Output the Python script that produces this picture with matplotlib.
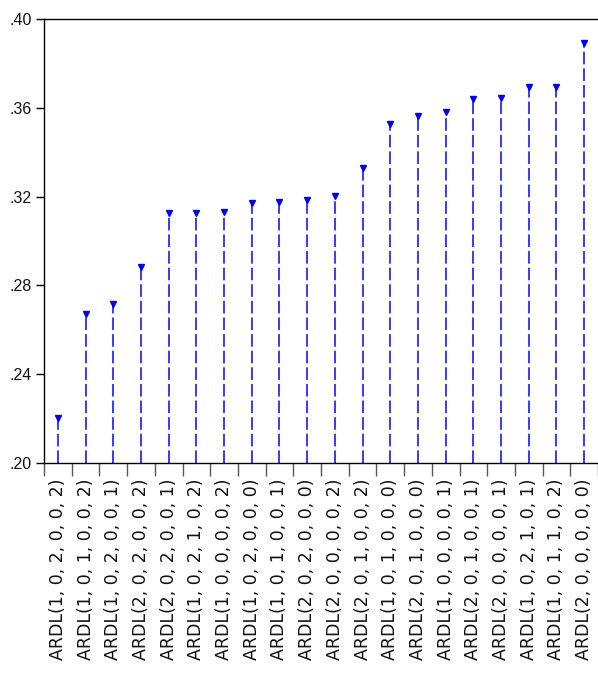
import numpy as np
import matplotlib
matplotlib.use("Agg")
import matplotlib.pyplot as plt
from matplotlib.ticker import FuncFormatter

plt.rcParams['font.family'] = ['Liberation Sans', 'DejaVu Sans']

models = [
    "ARDL(1, 0, 2, 0, 0, 2)", "ARDL(1, 0, 1, 0, 0, 2)", "ARDL(1, 0, 2, 0, 0, 1)",
    "ARDL(2, 0, 2, 0, 0, 2)", "ARDL(2, 0, 2, 0, 0, 1)", "ARDL(1, 0, 2, 1, 0, 2)",
    "ARDL(1, 0, 0, 0, 0, 2)", "ARDL(1, 0, 2, 0, 0, 0)", "ARDL(1, 0, 1, 0, 0, 1)",
    "ARDL(2, 0, 2, 0, 0, 0)", "ARDL(2, 0, 0, 0, 0, 2)", "ARDL(2, 0, 1, 0, 0, 2)",
    "ARDL(1, 0, 1, 0, 0, 0)", "ARDL(2, 0, 1, 0, 0, 0)", "ARDL(1, 0, 0, 0, 0, 1)",
    "ARDL(2, 0, 1, 0, 0, 1)", "ARDL(2, 0, 0, 0, 0, 1)", "ARDL(1, 0, 2, 1, 0, 1)",
    "ARDL(1, 0, 1, 1, 0, 2)", "ARDL(2, 0, 0, 0, 0, 0)",
]
criteria = [
    0.2201, 0.2669, 0.2715, 0.2881, 0.3127, 0.3126, 0.3131, 0.3169, 0.3174,
    0.3184, 0.3201, 0.3330, 0.3525, 0.3563, 0.3579, 0.3638, 0.3643, 0.3695,
    0.3695, 0.3890,
]

YMIN, YMAX = 0.20, 0.40

fig = plt.figure(figsize=(5.98, 6.77), dpi=100)
ax = fig.add_axes([44 / 598, 1 - 463 / 677, 1 - 44 / 598, (463 - 19) / 677])

x = np.arange(len(models)) + 0.5
ax.vlines(x, YMIN, criteria, colors='#2a2aff', linestyles=(0, (7, 2.2)), linewidth=1.3)
ax.plot(x, criteria, linestyle='none', marker='v', markersize=4.5, color='#0000ee')

ax.set_xlim(0, len(models))
ax.set_ylim(YMIN, YMAX)

# category boundaries as ticks, labels at centres
ax.set_xticks(np.arange(len(models) + 1))
ax.set_xticklabels([])
ax.set_xticks(x, minor=True)
ax.set_xticklabels(models, minor=True, rotation=90, fontsize=12.5,
                   family=['DejaVu Sans'], color='#111111')
ax.tick_params(axis='x', which='major', length=9, width=1, color='#555555')
ax.tick_params(axis='x', which='minor', length=0, pad=11)

ax.set_yticks(np.arange(0.20, 0.401, 0.04))
ax.yaxis.set_major_formatter(FuncFormatter(lambda v, p: ("%.2f" % v).lstrip('0')))
ax.tick_params(axis='y', length=6, width=1, labelsize=11.5, pad=3, labelcolor='#111111')

ax.spines['right'].set_visible(False)
for s in ['top', 'bottom', 'left']:
    ax.spines[s].set_linewidth(1.0)

fig.savefig("out.png", dpi=100)
